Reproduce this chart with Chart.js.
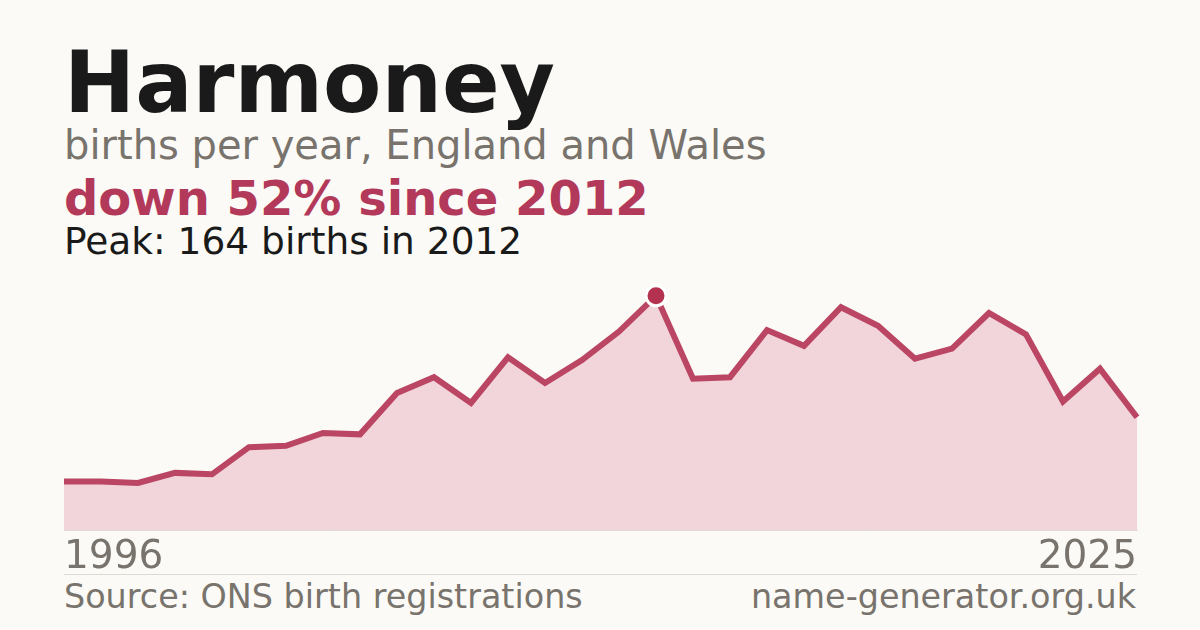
<!DOCTYPE html>
<html>
<head>
<meta charset="utf-8">
<script src="https://cdn.jsdelivr.net/npm/chart.js@4/dist/chart.umd.min.js"></script>
<style>
  html, body { margin: 0; padding: 0; }
  body {
    width: 1200px; height: 630px; overflow: hidden; position: relative;
    background: #fbfaf6; font-family: 'DejaVu Sans', sans-serif;
  }
  .txt { position: absolute; left: 64px; white-space: nowrap; line-height: 1; }
  .title { top: 40px; font-size: 85px; font-weight: bold; color: #1a1a1a; }
  .sub { top: 125px; font-size: 40px; color: #78736c; }
  .change { top: 174px; font-size: 48px; font-weight: bold; color: #b3395a; }
  .peak { top: 223px; font-size: 37.5px; color: #1a1a1a; }
  .foot { top: 580px; font-size: 33.4px; color: #78736c; }
  .foot.right { left: auto; right: 64px; }
  .rule { position: absolute; left: 64px; width: 1073px; top: 574px; height: 1px; background: #dedad2; }
  /* tick padding also pads the plot sideways by 4px, so the canvas is 4px wider each side */
  .chart-wrap { position: absolute; left: 60px; top: 273px; width: 1081px; height: 303px; }
</style>
</head>
<body>
  <div class="txt title">Harmoney</div>
  <div class="txt sub">births per year, England and Wales</div>
  <div class="txt change">down 52% since 2012</div>
  <div class="txt peak">Peak: 164 births in 2012</div>

  <div class="chart-wrap"><canvas id="chart"></canvas></div>
  <div class="rule"></div>

  <div class="txt foot">Source: ONS birth registrations</div>
  <div class="txt foot right">name-generator.org.uk</div>

<script>
const years = ['1996', '1997', '1998', '1999', '2000', '2001', '2002', '2003', '2004', '2005',
  '2006', '2007', '2008', '2009', '2010', '2011', '2012', '2013', '2014', '2015',
  '2016', '2017', '2018', '2019', '2020', '2021', '2022', '2023', '2024', '2025'];
const births = [34, 34, 33, 40, 39, 58, 59, 68, 67, 96,
  107, 89, 121, 103, 119, 139, 164, 106, 107, 140,
  129, 156, 143, 120, 127, 152, 137, 90, 113, 79];
const tickLabels = ['1996', '2025'];

const peakIndex = births.indexOf(Math.max(...births));

new Chart(document.getElementById('chart'), {
  type: 'line',
  data: {
    labels: years,
    datasets: [{
      data: births,
      borderColor: '#bb4663',
      borderWidth: 6,
      backgroundColor: '#f2d5db',
      fill: 'origin',
      tension: 0,
      borderJoinStyle: 'miter',
      pointRadius: births.map((_, i) => (i === peakIndex ? 10 : 0)),
      pointBackgroundColor: '#b3324f',
      pointBorderColor: '#ffffff',
      pointBorderWidth: 3,
      pointHoverRadius: 0,
      clip: false,
    }],
  },
  options: {
    responsive: true,
    maintainAspectRatio: false,
    animation: false,
    layout: { padding: 0, autoPadding: false },
    plugins: { legend: { display: false }, tooltip: { enabled: false } },
    scales: {
      x: {
        offset: false,
        grid: { display: false, drawTicks: false },
        border: { display: true, color: '#dedad2', width: 1 },
        afterFit: (scale) => { scale.height = 46; },
        ticks: {
          autoSkip: false,
          maxRotation: 0,
          align: 'inner',
          padding: 4,
          color: '#78736c',
          font: { family: 'DejaVu Sans', size: 39 },
          callback: (v, i) => (tickLabels.includes(years[i]) ? years[i] : ''),
        },
      },
      y: { display: false, min: 0, max: 180 },
    },
  },
});
</script>
</body>
</html>
